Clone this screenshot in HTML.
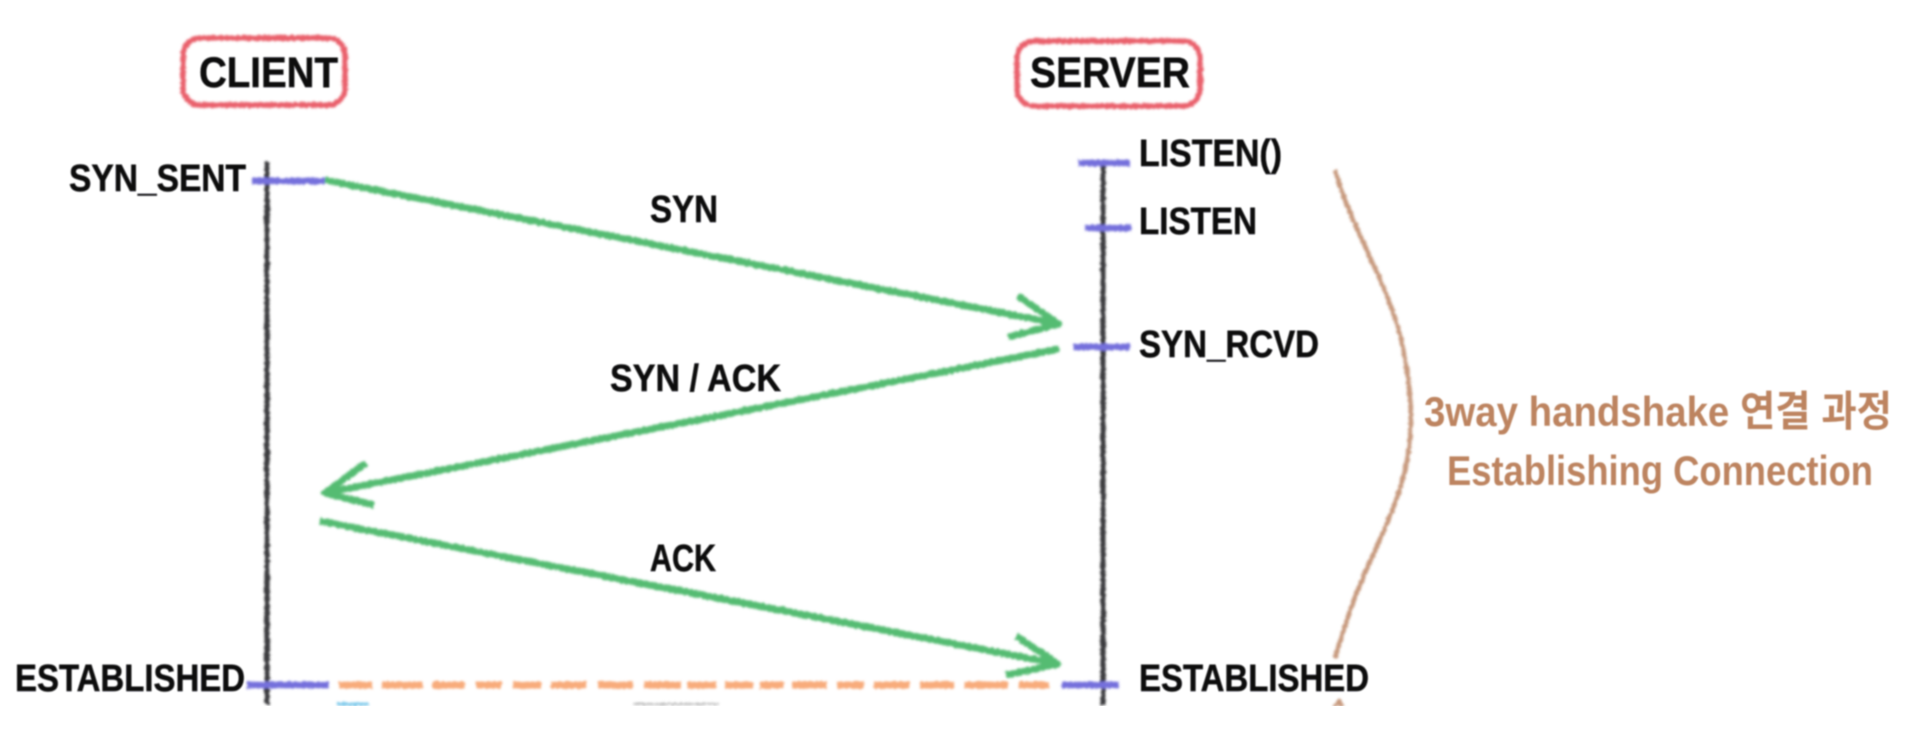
<!DOCTYPE html>
<html>
<head>
<meta charset="utf-8">
<style>
html,body{margin:0;padding:0;background:#fff;width:1928px;height:736px;overflow:hidden}
svg{display:block}
.k{font-family:"Liberation Sans","Noto Sans CJK KR",sans-serif;font-weight:bold;fill:#0c0c10;stroke:#0c0c10;stroke-width:.5}
.b{font-family:"Liberation Sans","Noto Sans CJK KR",sans-serif;font-weight:bold;fill:#bd8460}
</style>
</head>
<body>
<svg width="1928" height="736" viewBox="0 0 1928 736" xmlns="http://www.w3.org/2000/svg">
<defs>
<filter id="s" x="0" y="0" width="1928" height="736" filterUnits="userSpaceOnUse">
  <feTurbulence type="fractalNoise" baseFrequency="0.35" numOctaves="2" seed="4" result="n"/>
  <feDisplacementMap in="SourceGraphic" in2="n" scale="3.5" xChannelSelector="R" yChannelSelector="G" result="d"/>
  <feGaussianBlur in="d" stdDeviation="1.2"/>
</filter>
<filter id="t" x="0" y="0" width="1928" height="736" filterUnits="userSpaceOnUse"><feGaussianBlur stdDeviation="0.9"/></filter>
</defs>
<rect width="1928" height="736" fill="#fff"/>
<g filter="url(#s)" fill="none" stroke-linecap="butt" stroke-linejoin="round">
  <rect x="183" y="38" width="162" height="67" rx="17" stroke="#e9606c" stroke-width="5.5"/>
  <rect x="1017" y="41" width="183" height="65" rx="17" stroke="#e9606c" stroke-width="5.5"/>
  <path d="M267 162V705M1103 163V705" stroke="#3a3a3c" stroke-width="5"/>
  <g stroke="#7470dc" stroke-width="6.5">
    <path d="M252 181H325"/>
    <path d="M1078 163H1130"/>
    <path d="M1085 228H1131"/>
    <path d="M1073 347H1130"/>
    <path d="M247 685H329"/>
    <path d="M1062 685H1119"/>
  </g>
  <g stroke="#55bc72" stroke-width="7">
    <path d="M325 180L1059 324"/>
    <path d="M1018 296L1059 324L1008 337"/>
    <path d="M1059 349L325 493"/>
    <path d="M366 463L325 493L374 505"/>
    <path d="M320 521L1058 664"/>
    <path d="M1016 636L1058 664L1006 675"/>
  </g>
  <g stroke="#f8ac7c" stroke-width="7">
    <path d="M339 685H372M382 685H423M432 685H465M476 685H502M513 685H541M551 685H586M598 685H633M644 685H681M687 685H716M725 685H753M760 685H784M792 685H827M837 685H864M874 685H910M920 685H954M964 685H1008M1019 685H1049"/>
  </g>
  <path d="M1335 170C1345 205 1358 230 1370 257C1385 290 1398 320 1404 353C1408 375 1411 395 1411 415C1411 442 1407 468 1399 491C1390 520 1378 543 1367 568C1353 600 1344 628 1335 658" stroke="#c79a7e" stroke-width="4.5"/>
  <path d="M1333 706L1339 698L1345 706Z" fill="#c79a7e"/>
  <path d="M337 704H369" stroke="#7cc8ea" stroke-width="3"/>
  <path d="M633 704H719" stroke="#b8b8b8" stroke-width="2"/>
</g>
<g filter="url(#t)">
  <text class="k" x="199" y="87" font-size="43" textLength="139" lengthAdjust="spacingAndGlyphs">CLIENT</text>
  <text class="k" x="1030" y="87" font-size="43" textLength="160" lengthAdjust="spacingAndGlyphs">SERVER</text>
  <text class="k" x="69" y="191" font-size="38" textLength="177" lengthAdjust="spacingAndGlyphs">SYN_SENT</text>
  <text class="k" x="650" y="222" font-size="38" textLength="68" lengthAdjust="spacingAndGlyphs">SYN</text>
  <text class="k" x="1139" y="166" font-size="38" textLength="143" lengthAdjust="spacingAndGlyphs">LISTEN()</text>
  <text class="k" x="1139" y="234" font-size="38" textLength="118" lengthAdjust="spacingAndGlyphs">LISTEN</text>
  <text class="k" x="1139" y="357" font-size="38" textLength="180" lengthAdjust="spacingAndGlyphs">SYN_RCVD</text>
  <text class="k" x="610" y="391" font-size="38" textLength="171" lengthAdjust="spacingAndGlyphs">SYN / ACK</text>
  <text class="k" x="650" y="571" font-size="38" textLength="66" lengthAdjust="spacingAndGlyphs">ACK</text>
  <text class="k" x="15" y="691" font-size="38" textLength="230" lengthAdjust="spacingAndGlyphs">ESTABLISHED</text>
  <text class="k" x="1139" y="691" font-size="38" textLength="230" lengthAdjust="spacingAndGlyphs">ESTABLISHED</text>
  <text class="b" x="1424" y="426" font-size="42" textLength="468" lengthAdjust="spacingAndGlyphs">3way handshake 연결 과정</text>
  <text class="b" x="1447" y="485" font-size="42" textLength="426" lengthAdjust="spacingAndGlyphs">Establishing Connection</text>
</g>
<rect x="0" y="706" width="1928" height="30" fill="#fff"/>
</svg>
</body>
</html>
